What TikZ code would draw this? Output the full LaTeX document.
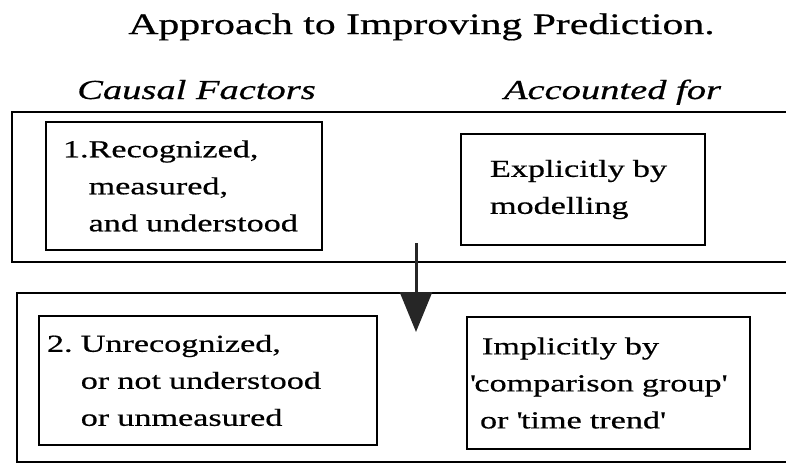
\documentclass[tikz,border=0pt]{standalone}
\usepackage{fontspec}
\setmainfont{Liberation Serif}[FakeStretch=1.4,FakeBold=0.6]
\usetikzlibrary{positioning,arrows.meta}

\begin{document}
\begin{tikzpicture}[x=1pt,y=-1pt,on grid,node distance=399pt,
    factor/.style={draw,line width=1.6pt,align=left,
      font=\fontsize{24.4pt}{37pt}\selectfont},
    heading/.style={anchor=base,font=\fontsize{27.5pt}{33pt}\selectfont\itshape},
    frame/.style={line width=1.6pt},
    flow/.style={black!85,line width=3pt,-{Triangle[length=40pt,width=32pt]}}]
   \useasboundingbox (0,0) rectangle (786,466);
   \node (title) [anchor=base,font=\fontsize{29.8pt}{36pt}\selectfont]
      at (421.5,34) {Approach to Improving Prediction.};
   \node[heading] (causes) at (196.5,99) {Causal Factors};
   \node[heading] (accounted) at (612.5,99) {Accounted for};

   % the two bands, open to the right
   \draw[frame] (786,112) -| (12,262) -- (786,262);
   \draw[frame] (786,293) -| (17,462) -- (786,462);

   \node[factor, minimum width=276pt, minimum height=128pt, inner xsep=17pt,
      text width=242pt] (known) at (184,186)
      {1.Recognized,\\ \phantom{1.}measured,\\ \phantom{1.}and understood};
   \node[factor, minimum width=244pt, minimum height=111pt, inner xsep=29pt,
      text width=186pt] (explicit) [right=of known, yshift=-3.5pt]
      {Explicitly by\\ modelling};
   \node[factor, minimum width=338pt, minimum height=129pt, inner xsep=8pt,
      text width=322pt] (unknown) [below=194.5pt of known, xshift=24pt]
      {2.\ Unrecognized,\\ \phantom{2.\ }or not understood\\ \phantom{2.\ }or unmeasured};
   \node[factor, minimum width=283pt, minimum height=132pt, inner xsep=3pt,
      text width=277pt] (implicit) [right=400.5pt of unknown, yshift=-2.5pt]
      {\hspace*{12pt}Implicitly by\\ \textquotesingle comparison group\textquotesingle\\
       \hspace*{10pt}or \textquotesingle time trend\textquotesingle};

   \coordinate (drop) at (416,243);
   \coordinate (tip) at (416,332);
   \draw[flow] (drop) -- (tip);
\end{tikzpicture}
\end{document}
